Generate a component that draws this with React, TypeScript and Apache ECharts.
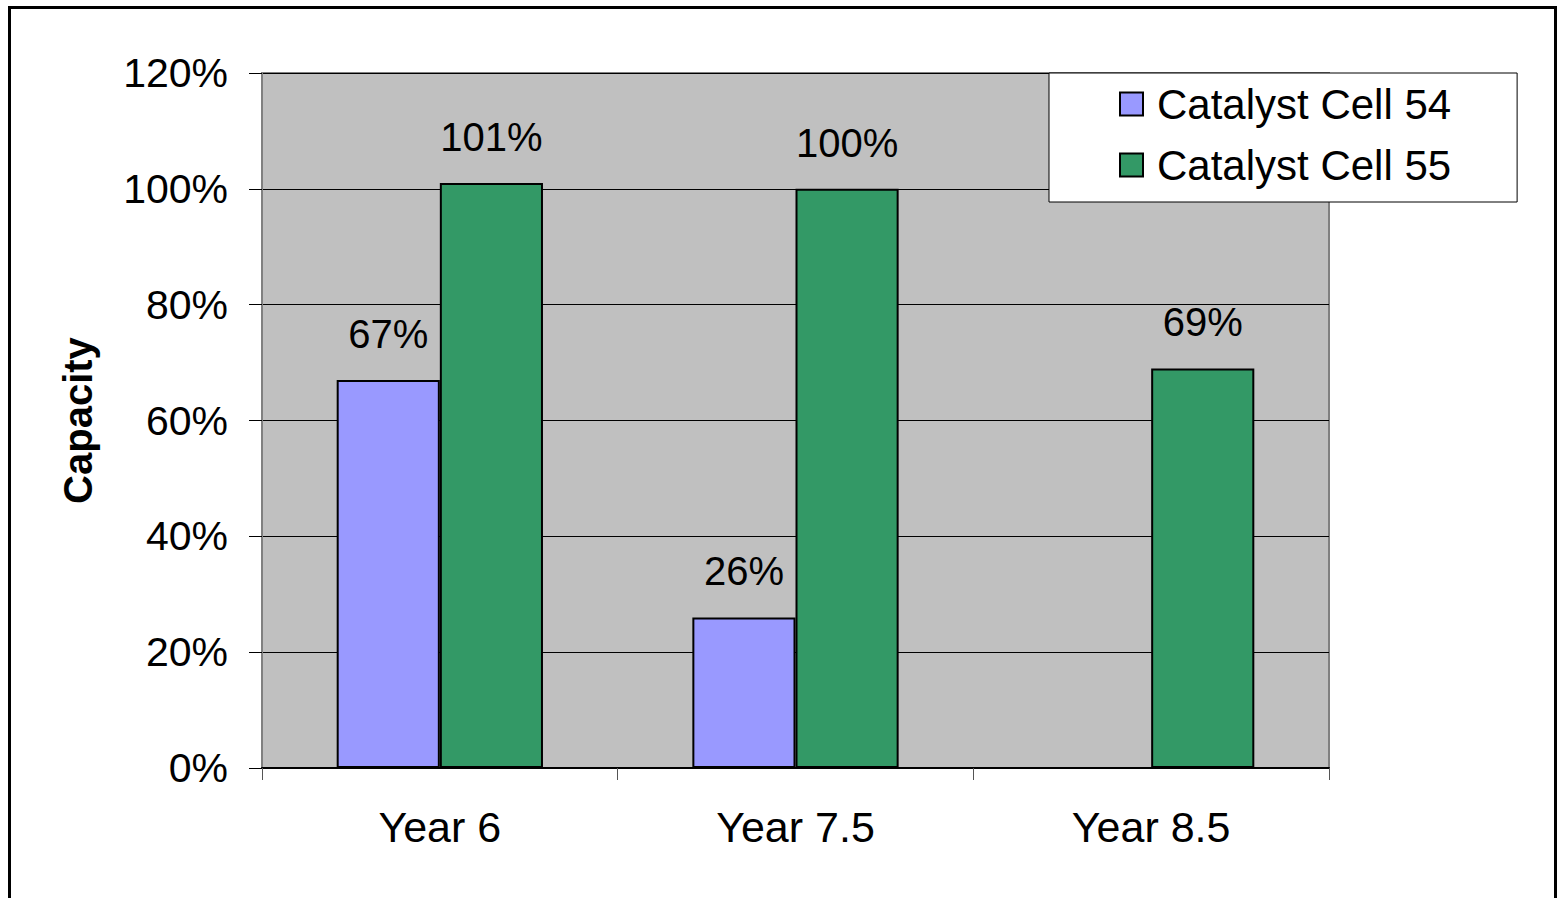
import React, { useEffect, useRef } from "react";
import * as echarts from "echarts";

// Chart data
const categories = ["Year 6", "Year 7.5", "Year 8.5"];
const seriesNames = ["Catalyst Cell 54", "Catalyst Cell 55"];
const cell54 = [0.67, 0.26, null];
const cell55 = [1.01, 1.0, 0.69];
const yTicks = { min: 0, max: 1.2, interval: 0.2 };

const FONT = "'Liberation Sans', Arial, sans-serif";
const pct = (v: number) => `${Math.round(v * 100)}%`;

export default function App() {
  const ref = useRef<HTMLDivElement>(null);

  useEffect(() => {
    if (!ref.current) return;
    const chart = echarts.init(ref.current, undefined, { renderer: "svg" });

    const barSeries = (name: string, data: (number | null)[], color: string) => ({
      name,
      type: "bar",
      data,
      barGap: "0%",
      barCategoryGap: "42%",
      itemStyle: { color, borderColor: "#000", borderWidth: 2 },
      label: {
        show: true,
        position: "top",
        distance: 26,
        fontSize: 40,
        fontFamily: FONT,
        color: "#000",
        formatter: (p: any) => pct(p.value),
      },
    });

    chart.setOption({
      animation: false,
      backgroundColor: "#fff",
      textStyle: { fontFamily: FONT },
      grid: {
        left: 262,
        top: 73,
        width: 1067,
        height: 695,
        show: true,
        backgroundColor: "#C0C0C0",
        borderColor: "#808080",
        borderWidth: 2,
      },
      legend: {
        orient: "vertical",
        left: 1049,
        top: 73,
        padding: [10, 66, 16, 70],
        itemGap: 19,
        itemWidth: 23,
        itemHeight: 23,
        itemStyle: { borderColor: "#000", borderWidth: 2 },
        backgroundColor: "#fff",
        borderColor: "#000",
        borderWidth: 1,
        textStyle: { fontSize: 42, fontFamily: FONT, color: "#000", padding: [0, 0, 0, 9] },
        icon: "rect",
        data: seriesNames,
      },
      xAxis: {
        type: "category",
        data: categories,
        axisLine: { lineStyle: { color: "#000", width: 2 } },
        axisTick: { show: true, length: 12, lineStyle: { color: "#555", width: 1 } },
        axisLabel: { fontSize: 43, fontFamily: FONT, color: "#000", margin: 37 },
      },
      yAxis: {
        type: "value",
        min: yTicks.min,
        max: yTicks.max,
        interval: yTicks.interval,
        name: "Capacity",
        nameLocation: "middle",
        nameRotate: 90,
        nameGap: 164,
        nameTextStyle: { fontSize: 40, fontWeight: "bold", fontFamily: FONT, color: "#000" },
        axisLine: { show: true, lineStyle: { color: "#808080", width: 2 } },
        axisTick: { show: true, length: 13, lineStyle: { color: "#000", width: 1 } },
        axisLabel: {
          fontSize: 41,
          fontFamily: FONT,
          color: "#000",
          margin: 34,
          formatter: (v: number) => pct(v),
        },
        splitLine: { show: true, lineStyle: { color: "#000", width: 1 } },
      },
      graphic: [
        {
          type: "rect",
          left: 7,
          top: 5,
          shape: { x: 0, y: 0, width: 1546, height: 1000 },
          style: { fill: "none", stroke: "#000", lineWidth: 3 },
          silent: true,
          z: 100,
        },
      ],
      series: [
        barSeries(seriesNames[0], cell54, "#9999FF"),
        barSeries(seriesNames[1], cell55, "#339966"),
      ],
    });

    return () => chart.dispose();
  }, []);

  return (
    <div
      ref={ref}
      style={{ position: "fixed", left: 0, top: 0, width: 1558, height: 898 }}
    />
  );
}
